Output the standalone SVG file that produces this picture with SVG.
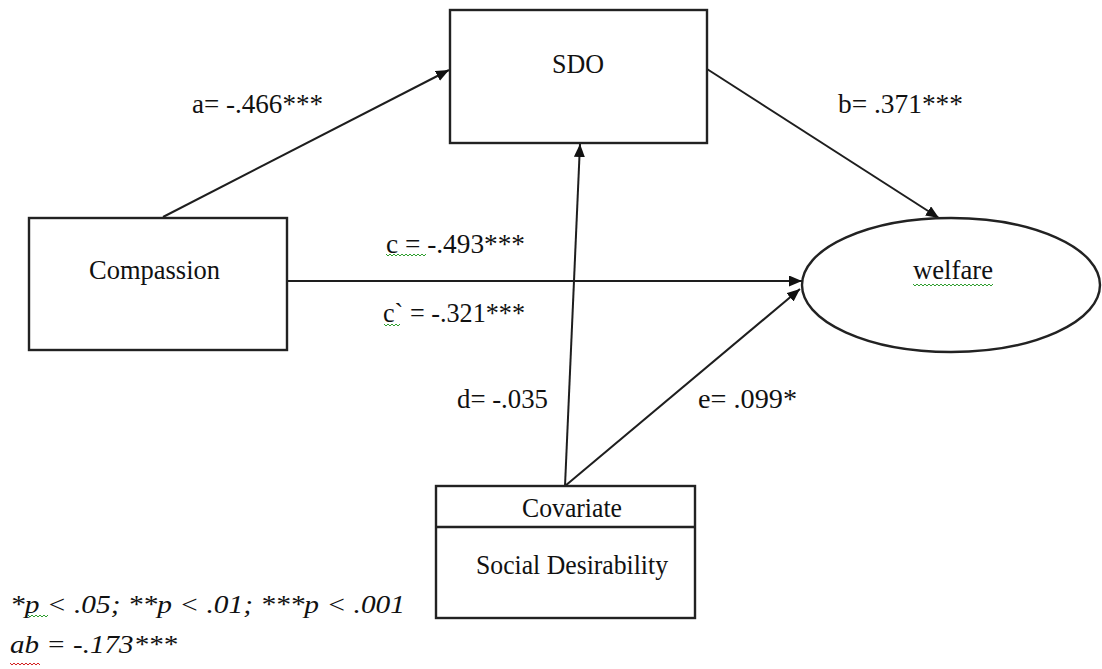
<svg xmlns="http://www.w3.org/2000/svg" width="1102" height="669" viewBox="0 0 1102 669">
  <style>
    .box { fill: #fff; stroke: #222; stroke-width: 2.4; }
    .edge { fill: none; stroke: #1e1e1e; stroke-width: 2; }
    .txt { font-family: "Liberation Serif", "Times New Roman", serif; font-size: 28px; fill: #111; }
    .note { font-family: "Liberation Serif", "Times New Roman", serif; font-size: 26px; font-style: italic; fill: #111; }
    .sq-g { fill: none; stroke: #2e9e2e; stroke-width: 1; }
    .sq-r { fill: none; stroke: #d42020; stroke-width: 1; }
  </style>
  <defs>
    <marker id="arrow" markerUnits="userSpaceOnUse" markerWidth="14" markerHeight="12" refX="13" refY="5.5" orient="auto">
      <path d="M0,0 L13,5.5 L0,11 z" fill="#111"/>
    </marker>
  </defs>
  <rect width="1102" height="669" fill="#fff"/>

  <!-- paths between variables -->
  <g id="connectors">
    <line class="edge" x1="163" y1="217" x2="449" y2="70" marker-end="url(#arrow)"/>
    <line class="edge" x1="707" y1="69" x2="939" y2="218" marker-end="url(#arrow)"/>
    <line class="edge" x1="287" y1="281" x2="802" y2="281" marker-end="url(#arrow)"/>
    <line class="edge" x1="565" y1="486" x2="580" y2="144" marker-end="url(#arrow)"/>
    <line class="edge" x1="565" y1="486" x2="800" y2="289" marker-end="url(#arrow)"/>
  </g>

  <g id="node-sdo">
    <rect class="box" x="450" y="10" width="257" height="133"/>
    <text class="txt" x="552" y="73" textLength="52" lengthAdjust="spacingAndGlyphs">SDO</text>
  </g>

  <g id="node-compassion">
    <rect class="box" x="29" y="218" width="258" height="132"/>
    <text class="txt" x="89" y="279" textLength="131" lengthAdjust="spacingAndGlyphs">Compassion</text>
  </g>

  <g id="node-welfare">
    <ellipse class="box" cx="951" cy="285" rx="149" ry="67" stroke-width="2"/>
    <text class="txt" x="913" y="279" textLength="80" lengthAdjust="spacingAndGlyphs">welfare</text>
    <path class="sq-g" d="M913,284 l2,2 l2,-2 l2,2 l2,-2 l2,2 l2,-2 l2,2 l2,-2 l2,2 l2,-2 l2,2 l2,-2 l2,2 l2,-2 l2,2 l2,-2 l2,2 l2,-2 l2,2 l2,-2 l2,2 l2,-2 l2,2 l2,-2 l2,2 l2,-2 l2,2 l2,-2 l2,2 l2,-2 l2,2 l2,-2 l2,2 l2,-2 l2,2 l2,-2 l2,2 l2,-2 l2,2 l2,-2"/>
  </g>

  <g id="node-covariate">
    <rect class="box" x="436" y="486" width="259" height="132"/>
    <line x1="436" y1="527" x2="695" y2="527" stroke="#222" stroke-width="2.4"/>
    <text class="txt" x="522" y="517" textLength="100" lengthAdjust="spacingAndGlyphs">Covariate</text>
    <text class="txt" x="476" y="574" textLength="192" lengthAdjust="spacingAndGlyphs">Social Desirability</text>
  </g>

  <!-- path coefficients -->
  <g id="labels">
    <text class="txt" x="192" y="113" textLength="131" lengthAdjust="spacingAndGlyphs">a= -.466***</text>
    <text class="txt" x="838" y="113" textLength="125" lengthAdjust="spacingAndGlyphs">b= .371***</text>
    <text class="txt" x="386" y="253" textLength="139" lengthAdjust="spacingAndGlyphs">c = -.493***</text>
    <path class="sq-g" d="M386,254 l2,2 l2,-2 l2,2 l2,-2 l2,2 l2,-2 l2,2 l2,-2 l2,2 l2,-2 l2,2 l2,-2 l2,2 l2,-2 l2,2 l2,-2 l2,2 l2,-2 l2,2 l2,-2"/>
    <text class="txt" x="383" y="322" textLength="142" lengthAdjust="spacingAndGlyphs">c` = -.321***</text>
    <path class="sq-g" d="M384,324 l2,2 l2,-2 l2,2 l2,-2 l2,2 l2,-2 l2,2 l2,-2"/>
    <text class="txt" x="457" y="408" textLength="91" lengthAdjust="spacingAndGlyphs">d= -.035</text>
    <text class="txt" x="698" y="408" textLength="99" lengthAdjust="spacingAndGlyphs">e= .099*</text>
  </g>

  <!-- significance notes -->
  <g id="notes">
    <text class="note" x="10" y="613" textLength="395" lengthAdjust="spacingAndGlyphs">*p &lt; .05; **p &lt; .01; ***p &lt; .001</text>
    <path class="sq-g" d="M28,615 l2,2 l2,-2 l2,2 l2,-2 l2,2 l2,-2 l2,2 l2,-2 l2,2 l2,-2"/>
    <text class="note" x="10" y="653" textLength="167" lengthAdjust="spacingAndGlyphs">ab = -.173***</text>
    <path class="sq-r" d="M10,663 l2,2 l2,-2 l2,2 l2,-2 l2,2 l2,-2 l2,2 l2,-2 l2,2 l2,-2 l2,2 l2,-2 l2,2 l2,-2 l2,2"/>
  </g>
</svg>
